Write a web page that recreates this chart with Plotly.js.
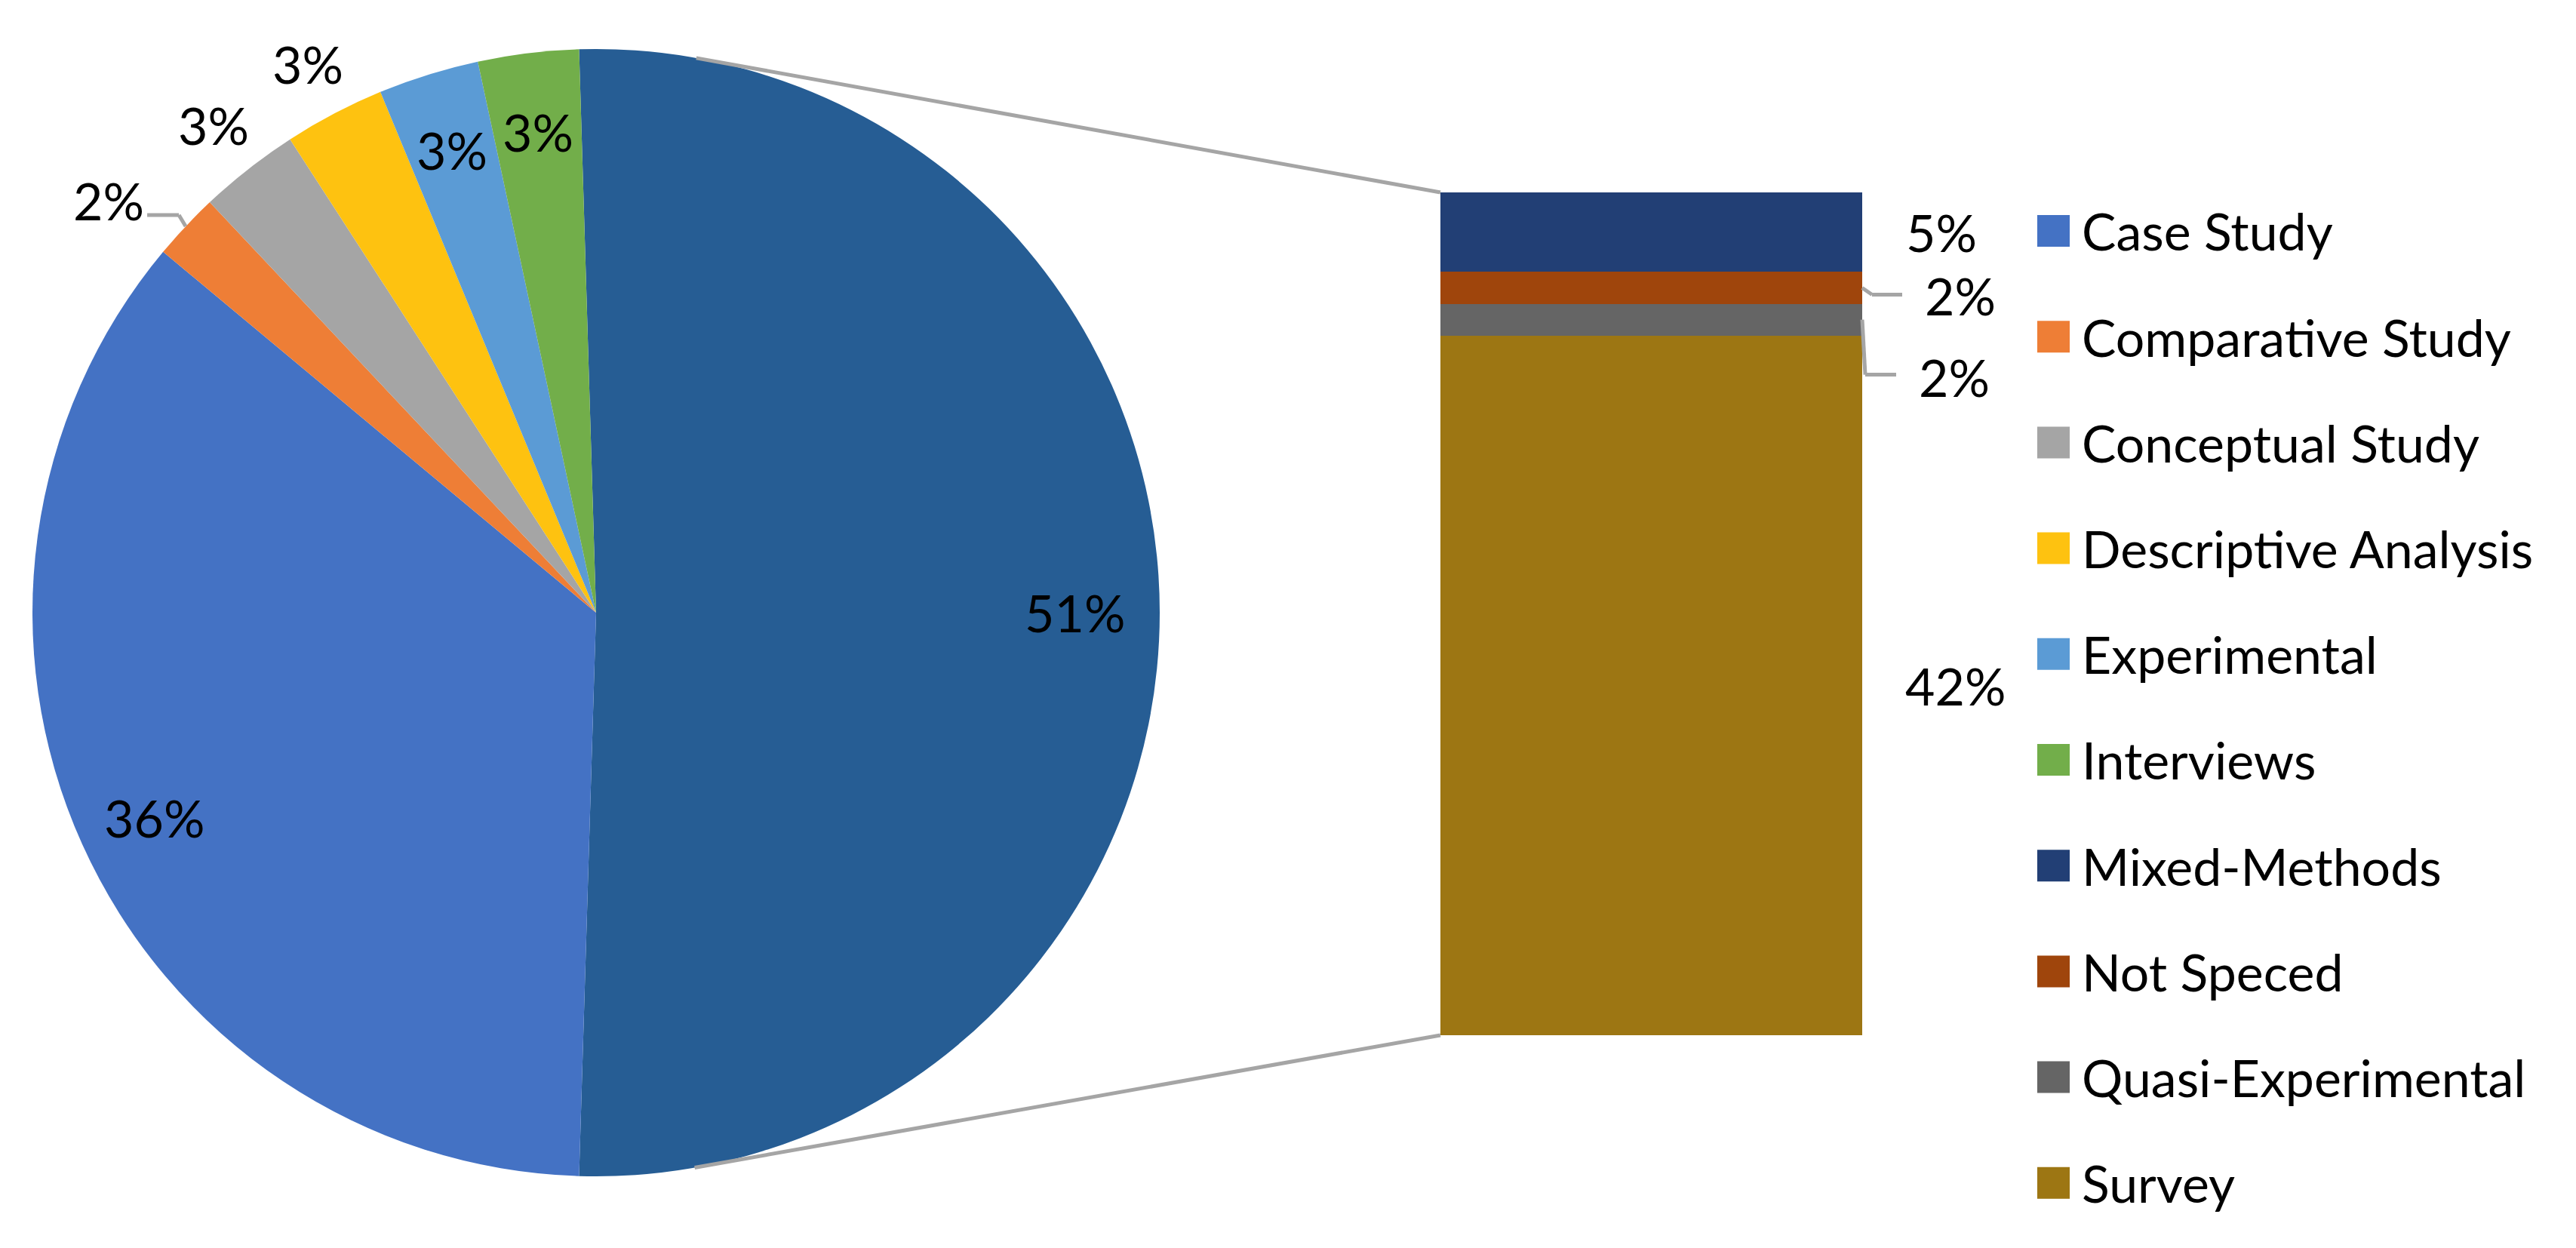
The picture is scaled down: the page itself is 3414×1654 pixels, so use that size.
<!DOCTYPE html>
<html>
<head>
<meta charset="utf-8">
<script src="https://cdn.plot.ly/plotly-3.0.1.min.js"></script>
<style>
  html, body { margin: 0; padding: 0; background: #fff; }
  #chart { width: 3414px; height: 1654px; }
</style>
</head>
<body>
<div id="chart"></div>
<script>
// number of studies per method (n = 104)
const pieCats = ['Case Study', 'Comparative Study', 'Conceptual Study', 'Descriptive Analysis', 'Experimental', 'Interviews'];
const pieVals = [37, 2, 3, 3, 3, 3];
const pieColors = ['#4472C4', '#EE7E36', '#A5A5A5', '#FEC210', '#5B9BD5', '#72AE4A'];

// methods split off into the bar, listed top to bottom
const barCats = ['Mixed-Methods', 'Not Speced', 'Quasi-Experimental', 'Survey'];
const barVals = [5, 2, 2, 44];
const barColors = ['#223F75', '#9F450C', '#656565', '#9D7613'];
const otherColor = '#265D94';

// label placement styles (Excel "best fit" look)
const pieLabelPos = ['in', 'lead', 'out', 'out', 'in', 'in'];
const barLabelOff = [[56, 0], [81, 10], [73, 76], [55, 0]];   // px from bar edge / segment middle
const barLabelLead = [false, true, true, false];

const W = 3414, H = 1654;
const pie = { cx: 790, cy: 812, r: 747 };
const bar = { x0: 1909, x1: 2468, y0: 255, y1: 1372 };
const FONT = 'Lato, "Open Sans", sans-serif';
const FS = 68;

const otherTotal = barVals.reduce((a, b) => a + b, 0);
const total = otherTotal + pieVals.reduce((a, b) => a + b, 0);
const pct = v => Math.round(100 * v / total) + '%';

const px = x => x / W;
const py = y => 1 - y / H;

// ---- traces ----
const rotation = 90 - 180 * otherTotal / total;   // keep the "other" slice centred at 3 o'clock
const data = [{
    type: 'pie',
    labels: ['Other'].concat(pieCats),
    values: [otherTotal].concat(pieVals),
    sort: false,
    direction: 'clockwise',
    rotation: rotation,
    marker: { colors: [otherColor].concat(pieColors), line: { width: 0 } },
    textinfo: 'none',
    hoverinfo: 'label+value+percent',
    showlegend: false,
    domain: {
        x: [px(pie.cx - pie.r), px(pie.cx + pie.r)],
        y: [py(pie.cy + pie.r), py(pie.cy - pie.r)]
    }
}];

// stacked bar: first trace sits at the bottom
for (let i = barCats.length - 1; i >= 0; i--) {
    data.push({
        type: 'bar',
        name: barCats[i],
        x: [0],
        y: [barVals[i]],
        width: [1],
        marker: { color: barColors[i], line: { width: 0 } },
        hoverinfo: 'name+y',
        showlegend: false
    });
}

// ---- decorations ----
const shapes = [];
const annotations = [];
const gray = '#A5A5A5';

function seg(x0, y0, x1, y1) {
    shapes.push({
        type: 'line', xref: 'paper', yref: 'paper',
        x0: px(x0), y0: py(y0), x1: px(x1), y1: py(y1),
        line: { color: gray, width: 5 }
    });
}

function label(x, y, text, xanchor) {
    annotations.push({
        xref: 'paper', yref: 'paper', x: px(x), y: py(y),
        text: text, showarrow: false,
        xanchor: xanchor || 'center', yanchor: 'middle',
        font: { family: FONT, size: FS, color: '#000' }
    });
}

// pie labels, angles measured clockwise from 12 o'clock like plotly does
let ang = rotation + 360 * otherTotal / total;
const polar = (a, r) => [pie.cx + r * Math.sin(a * Math.PI / 180), pie.cy - r * Math.cos(a * Math.PI / 180)];
{
    const mid = rotation + 180 * otherTotal / total;
    const p = polar(mid, 0.85 * pie.r);
    label(p[0], p[1], pct(otherTotal));
}
pieVals.forEach((v, i) => {
    const span = 360 * v / total;
    const mid = ang + span / 2;
    ang += span;
    if (pieLabelPos[i] === 'in') {
        const p = polar(mid, 0.86 * pie.r);
        label(p[0], p[1] + (i === 0 ? 8 : 0), pct(v));
    } else if (pieLabelPos[i] === 'out') {
        const p = polar(mid, 1.10 * pie.r);
        label(p[0], p[1], pct(v));
    } else {
        const e = polar(mid, pie.r);
        seg(e[0], e[1], e[0] - 9, e[1] - 15);
        seg(e[0] - 9, e[1] - 15, e[0] - 51, e[1] - 15);
        label(e[0] - 53, e[1] - 34, pct(v), 'right');
    }
});

// bar geometry through its own value scale
const yPix = v => bar.y1 - v / otherTotal * (bar.y1 - bar.y0);
let below = otherTotal;
barVals.forEach((v, i) => {
    below -= v;
    const ym = yPix(below + v / 2);
    const [dx, dy] = barLabelOff[i];
    if (barLabelLead[i]) {
        if (dy > 30) {
            seg(bar.x1, ym, bar.x1 + 4, ym + dy - 3);
            seg(bar.x1 + 4, ym + dy - 3, bar.x1 + 45, ym + dy - 3);
        } else {
            seg(bar.x1, ym, bar.x1 + 13, ym + 9);
            seg(bar.x1 + 13, ym + 9, bar.x1 + 53, ym + 9);
        }
    }
    label(bar.x1 + dx, ym + dy, pct(v), 'left');
});

// tangent connectors from the bar corners to the pie
function tangent(P, upper) {
    const vx = P[0] - pie.cx, vy = P[1] - pie.cy;
    const d = Math.hypot(vx, vy);
    const base = Math.atan2(vy, vx);
    const off = Math.acos(pie.r / d);
    const a = upper ? base - off : base + off;
    return [pie.cx + pie.r * Math.cos(a), pie.cy + pie.r * Math.sin(a)];
}
const topCorner = [bar.x0, yPix(otherTotal)];
const botCorner = [bar.x0, yPix(0)];
const t1 = tangent(topCorner, true), t2 = tangent(botCorner, false);
seg(t1[0], t1[1], topCorner[0], topCorner[1]);
seg(t2[0], t2[1], botCorner[0], botCorner[1]);

// legend: pie methods first, then the bar methods
const legCats = pieCats.concat(barCats);
const legColors = pieColors.concat(barColors);
legCats.forEach((c, i) => {
    const yc = 306 + i * 140.2;
    shapes.push({
        type: 'rect', xref: 'paper', yref: 'paper',
        x0: px(2700), x1: px(2743), y0: py(yc + 21), y1: py(yc - 21),
        fillcolor: legColors[i], line: { width: 0 }
    });
    label(2757, yc, c, 'left');
});

const layout = {
    width: W, height: H,
    margin: { l: 0, r: 0, t: 0, b: 0 },
    paper_bgcolor: '#fff',
    plot_bgcolor: 'rgba(0,0,0,0)',
    barmode: 'stack',
    bargap: 0,
    showlegend: false,
    xaxis: { domain: [px(bar.x0), px(bar.x1)], range: [-0.5, 0.5], visible: false, fixedrange: true },
    yaxis: { domain: [py(bar.y1), py(bar.y0)], range: [0, otherTotal], visible: false, fixedrange: true },
    shapes: shapes,
    annotations: annotations,
    font: { family: FONT }
};

Plotly.newPlot('chart', data, layout, { displayModeBar: false, staticPlot: true });
</script>
</body>
</html>
